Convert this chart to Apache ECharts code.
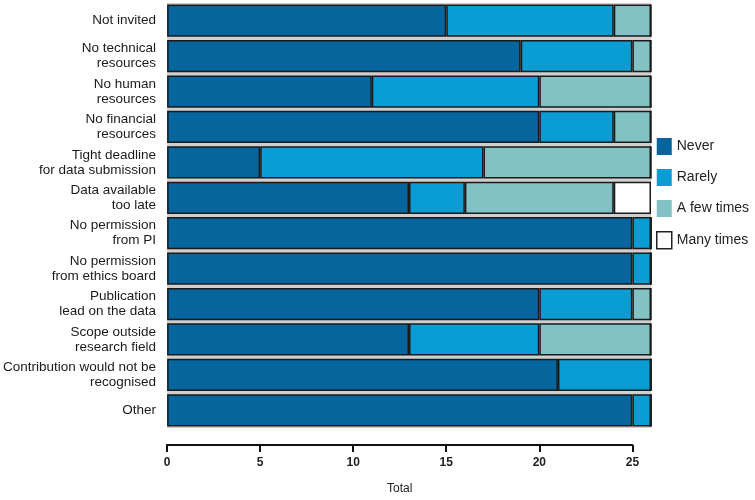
<!DOCTYPE html>
<html><head><meta charset="utf-8">
<script src="https://cdn.jsdelivr.net/npm/echarts@6/dist/echarts.min.js"></script>
<style>html,body{margin:0;padding:0;background:#fff}#c{width:755px;height:500px}</style>
</head><body><div id="c"></div>
<script>
const categories = ["Not invited","No technical\nresources","No human\nresources","No financial\nresources","Tight deadline\nfor data submission","Data available\ntoo late","No permission\nfrom PI","No permission\nfrom ethics board","Publication\nlead on the data","Scope outside\nresearch field","Contribution would not be\nrecognised","Other"];
const never    = [15,19,11,20, 5,13,25,25,20,13,21,25];
const rarely   = [ 9, 6, 9, 4,12, 3, 1, 1, 5, 7, 5, 1];
const fewTimes = [ 2, 1, 6, 2, 9, 8, 0, 0, 1, 6, 0, 0];
const manyTimes= [ 0, 0, 0, 0, 0, 2, 0, 0, 0, 0, 0, 0];
const seriesNames = ["Never","Rarely","A few times","Many times"];
const xTicks = {min:0, max:25, interval:5};
const xMaxBars = 26;

const colors = ["#05659c","#0a9dd4","#82c2c4","#ffffff"];
const font = "Liberation Sans";
const chart = echarts.init(document.getElementById('c'));
const values = [never, rarely, fewTimes, manyTimes];
const plotW = 755 - 167 - 104;
chart.setOption({
  animation:false,
  textStyle:{fontFamily:font},
  grid:[
    {left:167, right:104, top:3, bottom:72, show:true, backgroundColor:'#cfcfcf', borderWidth:0},
    {left:167, width: plotW*xTicks.max/xMaxBars, top:3, bottom:52}
  ],
  legend:{
    orient:'vertical', left:651, top:133, itemWidth:15, itemHeight:17, itemGap:14,
    textStyle:{fontSize:14, color:'#222', fontFamily:font},
    data: seriesNames.map((n,i)=>({name:n, icon:'rect', itemStyle: i===3 ? {borderColor:'#222', borderWidth:1.5} : {borderWidth:0}}))
  },
  xAxis:[
    {gridIndex:0, type:'value', min:0, max:xMaxBars, show:false, splitLine:{show:false}},
    {gridIndex:1, type:'value', min:xTicks.min, max:xTicks.max, interval:xTicks.interval,
     axisLine:{show:true, lineStyle:{color:'#111', width:2}},
     axisTick:{show:true, length:7, lineStyle:{color:'#111', width:2}},
     axisLabel:{fontSize:12, fontWeight:'bold', color:'#222', margin:12},
     splitLine:{show:false},
     name:'Total', nameLocation:'middle', nameGap:38, nameTextStyle:{fontSize:12, color:'#222'}}
  ],
  yAxis:[
    {gridIndex:0, type:'category', data:categories, inverse:true,
     axisLine:{show:false}, axisTick:{show:false},
     axisLabel:{fontSize:13.5, color:'#1a1a1a', margin:11, lineHeight:15, align:'right'}},
    {gridIndex:1, type:'category', data:categories, show:false}
  ],
  series: seriesNames.map((n,i)=>({
    name:n, type:'bar', stack:'total', xAxisIndex:0, yAxisIndex:0,
    barCategoryGap:'9%',
    itemStyle:{color:colors[i], borderColor:'#1a1a1a', borderWidth:1.5},
    data: values[i]
  })).concat([{type:'scatter', xAxisIndex:1, yAxisIndex:1, data:[], silent:true}])
});
</script></body></html>
